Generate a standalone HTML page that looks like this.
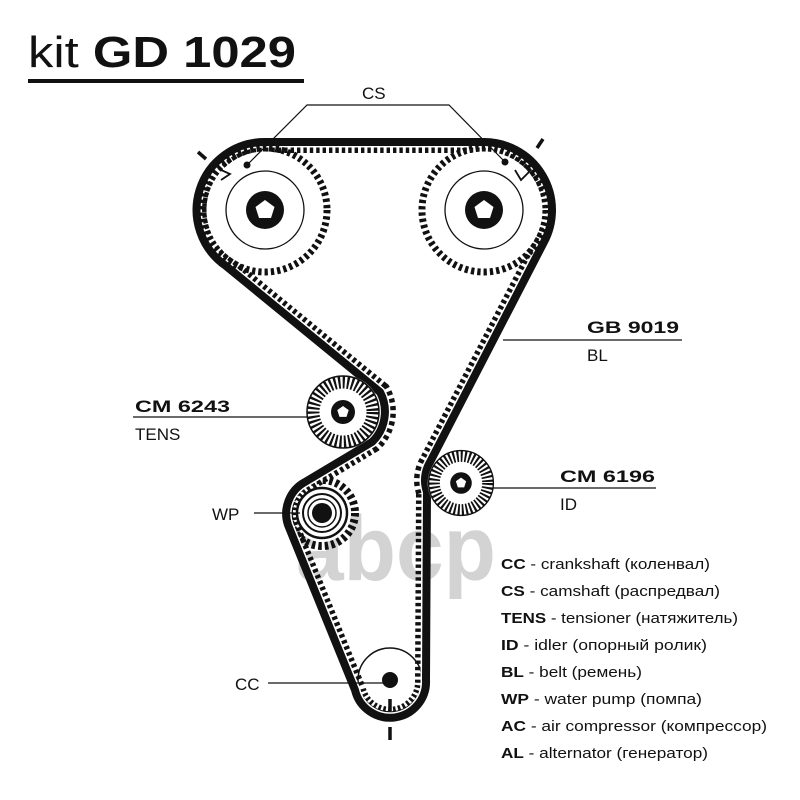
<!DOCTYPE html>
<html><head><meta charset="utf-8"><style>
html,body{margin:0;padding:0;background:#fff}
svg{display:block}
text{font-family:"Liberation Sans","DejaVu Sans",sans-serif;fill:#111}
.b{font-weight:bold}
</style></head><body>
<svg width="800" height="800" viewBox="0 0 800 800" xmlns="http://www.w3.org/2000/svg">
<defs>
<path id="belt" d="M265,142 L484,142 A68,68 0 0 1 544,242 L428,466 A36,36 0 0 0 427,492 L426,680 A36,36 0 0 1 355,690 L288,525 A36,36 0 0 1 305,482 L372,442 A42,42 0 0 0 380,392 L226,266 A68,68 0 0 1 265,142 Z"/>
<clipPath id="inner"><use href="#belt"/></clipPath>
<g id="spokes">
<circle r="30" fill="none" stroke="#111" stroke-width="13" stroke-dasharray="2.2 2.2"/>
<circle r="36" fill="none" stroke="#111" stroke-width="1.5"/>
<circle r="12" fill="#111"/>
<polygon points="0,-6 5.7,-1.9 3.5,4.9 -3.5,4.9 -5.7,-1.9" fill="#fff"/>
</g>
</defs>

<!-- title -->
<text x="28" y="67" font-size="44" textLength="268" lengthAdjust="spacingAndGlyphs">kit <tspan font-weight="bold">GD 1029</tspan></text>
<rect x="28" y="79" width="276" height="4" fill="#111"/>

<!-- watermark -->
<text x="296" y="580" font-size="92" font-weight="bold" style="fill:#a0a0a0;opacity:0.45" textLength="200" lengthAdjust="spacingAndGlyphs">abcp</text>

<!-- water pump -->
<circle cx="322" cy="513" r="33" fill="none" stroke="#111" stroke-width="8" stroke-dasharray="3.5 3"/>
<circle cx="322" cy="513" r="29" fill="#fff"/>
<circle cx="322" cy="513" r="25" fill="none" stroke="#111" stroke-width="2.5"/>
<circle cx="322" cy="513" r="19" fill="none" stroke="#111" stroke-width="2"/>
<circle cx="322" cy="513" r="14" fill="none" stroke="#111" stroke-width="1.5"/>
<circle cx="322" cy="513" r="10" fill="#111"/>

<!-- crank -->
<circle cx="390" cy="680" r="32" fill="#fff" stroke="#111" stroke-width="1.5"/>
<circle cx="390" cy="680" r="8" fill="#111"/>

<!-- belt teeth -->
<use href="#belt" fill="none" stroke="#111" stroke-width="22" stroke-dasharray="3.4 3" clip-path="url(#inner)"/>
<use href="#belt" fill="none" stroke="#fff" stroke-width="11" clip-path="url(#inner)"/>

<!-- cam gears -->
<g>
<circle cx="265" cy="210" r="62" fill="none" stroke="#111" stroke-width="7" stroke-dasharray="3.3 3"/>
<circle cx="265" cy="210" r="58.5" fill="#fff"/>
<circle cx="265" cy="210" r="39" fill="none" stroke="#111" stroke-width="1.3"/>
<circle cx="265" cy="210" r="19" fill="#111"/>
<polygon points="265,200 274.5,207 271,218 259,218 255.5,207" fill="#fff"/>
<circle cx="484" cy="210" r="62" fill="none" stroke="#111" stroke-width="7" stroke-dasharray="3.3 3"/>
<circle cx="484" cy="210" r="58.5" fill="#fff"/>
<circle cx="484" cy="210" r="39" fill="none" stroke="#111" stroke-width="1.3"/>
<circle cx="484" cy="210" r="19" fill="#111"/>
<polygon points="484,200 493.5,207 490,218 478,218 474.5,207" fill="#fff"/>
</g>

<!-- belt -->
<use href="#belt" fill="none" stroke="#111" stroke-width="8" stroke-linejoin="round"/>

<!-- tensioner & idler -->
<g transform="translate(343,412)"><circle r="37" fill="#fff"/><use href="#spokes"/></g>
<g transform="translate(461,483) scale(0.9)"><circle r="37" fill="#fff"/><use href="#spokes"/></g>

<!-- marks -->
<line x1="198" y1="152" x2="206" y2="159" stroke="#111" stroke-width="3.5"/>
<line x1="537" y1="148" x2="543" y2="139" stroke="#111" stroke-width="3.5"/>
<line x1="390" y1="699" x2="390" y2="711" stroke="#111" stroke-width="3.5"/>
<line x1="390" y1="727" x2="390" y2="740" stroke="#111" stroke-width="3.5"/>
<polyline points="219,169 230,174 221,180" fill="none" stroke="#111" stroke-width="1.8"/>
<polyline points="515,170 521,180 529,172" fill="none" stroke="#111" stroke-width="1.8"/>

<!-- CS -->
<text x="362" y="99" font-size="17">CS</text>
<polyline points="247,165 307,105 449,105 505,162" fill="none" stroke="#111" stroke-width="1.2"/>
<circle cx="247" cy="165" r="3.5" fill="#111"/>
<circle cx="505" cy="162" r="3.5" fill="#111"/>

<!-- labels -->
<text x="587" y="333" font-size="17" class="b" textLength="92" lengthAdjust="spacingAndGlyphs">GB 9019</text>
<text x="587" y="361" font-size="17">BL</text>
<line x1="503" y1="340" x2="682" y2="340" stroke="#111" stroke-width="1.2"/>

<text x="135" y="412" font-size="17" class="b" textLength="95" lengthAdjust="spacingAndGlyphs">CM 6243</text>
<text x="135" y="440" font-size="17">TENS</text>
<line x1="133" y1="417" x2="308" y2="417" stroke="#111" stroke-width="1.2"/>

<text x="560" y="482" font-size="17" class="b" textLength="95" lengthAdjust="spacingAndGlyphs">CM 6196</text>
<text x="560" y="510" font-size="17">ID</text>
<line x1="490" y1="488" x2="656" y2="488" stroke="#111" stroke-width="1.2"/>

<text x="212" y="520" font-size="17">WP</text>
<line x1="254" y1="513" x2="300" y2="513" stroke="#111" stroke-width="1.2"/>

<text x="235" y="690" font-size="17">CC</text>
<line x1="268" y1="683" x2="384" y2="683" stroke="#111" stroke-width="1.2"/>

<!-- legend -->
<g font-size="15">
<text x="501" y="569" textLength="209" lengthAdjust="spacingAndGlyphs"><tspan class="b">CC</tspan> - crankshaft (коленвал)</text>
<text x="501" y="596" textLength="219" lengthAdjust="spacingAndGlyphs"><tspan class="b">CS</tspan> - camshaft (распредвал)</text>
<text x="501" y="623" textLength="237" lengthAdjust="spacingAndGlyphs"><tspan class="b">TENS</tspan> - tensioner (натяжитель)</text>
<text x="501" y="650" textLength="206" lengthAdjust="spacingAndGlyphs"><tspan class="b">ID</tspan> - idler (опорный ролик)</text>
<text x="501" y="677" textLength="141" lengthAdjust="spacingAndGlyphs"><tspan class="b">BL</tspan> - belt (ремень)</text>
<text x="501" y="704" textLength="201" lengthAdjust="spacingAndGlyphs"><tspan class="b">WP</tspan> - water pump (помпа)</text>
<text x="501" y="731" textLength="266" lengthAdjust="spacingAndGlyphs"><tspan class="b">AC</tspan> - air compressor (компрессор)</text>
<text x="501" y="758" textLength="207" lengthAdjust="spacingAndGlyphs"><tspan class="b">AL</tspan> - alternator (генератор)</text>
</g>
</svg>
</body></html>
